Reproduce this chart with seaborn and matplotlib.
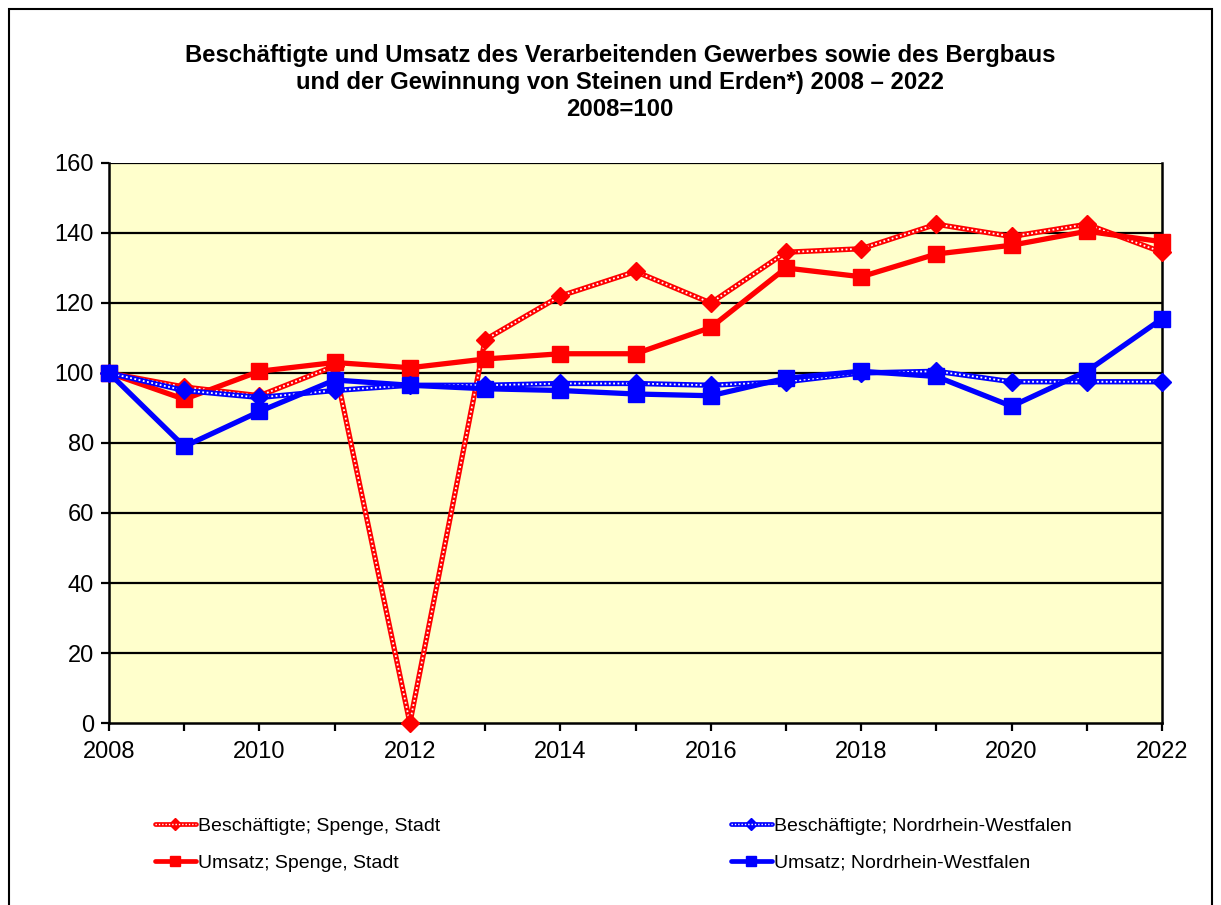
"""
Beschäftigte und Umsatz - Spenge vs. Nordrhein-Westfalen, 2008=100.
"""
import matplotlib
matplotlib.use("Agg")
import matplotlib.pyplot as plt
from matplotlib.legend_handler import HandlerTuple
from matplotlib.lines import Line2D
from matplotlib.patches import Rectangle
import seaborn as sns
import pandas as pd

sns.set_theme(style="white")
plt.rcParams["font.family"] = ["Liberation Sans", "DejaVu Sans"]
plt.rcParams["text.color"] = "black"

years = list(range(2008, 2023))
besch_spenge = [100, 96, 93.5, 102, 0, 109.5, 122, 129, 120, 134.5, 135.5,
                142.5, 139, 142.5, 134.5]
umsatz_spenge = [100, 92.5, 100.5, 103, 101.5, 104, 105.5, 105.5, 113, 130,
                 127.5, 134, 136.5, 140.5, 137.5]
besch_nrw = [100, 95, 93, 95, 96.5, 96.5, 97, 97, 96.5, 97.5, 100, 100.5,
             97.5, 97.5, 97.5]
umsatz_nrw = [100, 79, 89, 98, 96.5, 95.5, 95, 94, 93.5, 98.5, 100.5, 99,
              90.5, 100.5, 115.5]

labels = ["Beschäftigte; Spenge, Stadt", "Umsatz; Spenge, Stadt",
          "Beschäftigte; Nordrhein-Westfalen", "Umsatz; Nordrhein-Westfalen"]

RED = "#FF0000"
BLUE = "#0000FF"
BG = "#FFFFCC"
DOTS = (0, (1, 1.4))

df = pd.DataFrame({
    "Jahr": years * 4,
    "Wert": besch_spenge + umsatz_spenge + besch_nrw + umsatz_nrw,
    "Reihe": sum([[lab] * len(years) for lab in labels], []),
})

fig = plt.figure(figsize=(12.21, 9.05), dpi=100)
ax = fig.add_axes([0.0893, 0.2011, 0.8624, 0.6188])
ax.set_facecolor(BG)

styles = {
    labels[0]: dict(color=RED, dotted=True, marker="D", ms=9.5, lw=3.8),
    labels[1]: dict(color=RED, dotted=False, marker="s", ms=11.5, lw=3.8),
    labels[2]: dict(color=BLUE, dotted=True, marker="D", ms=9.5, lw=3.8),
    labels[3]: dict(color=BLUE, dotted=False, marker="s", ms=11.5, lw=3.8),
}

handles = []
for i, lab in enumerate(labels):
    st = styles[lab]
    sub = df[df["Reihe"] == lab]
    z = 3 + i
    sns.lineplot(data=sub, x="Jahr", y="Wert", color=st["color"],
                 linewidth=st["lw"], ax=ax, zorder=z, legend=False)
    if st["dotted"]:
        ax.plot(sub["Jahr"], sub["Wert"], color="white", linewidth=1.3,
                linestyle=DOTS, zorder=z + 0.1)
    ax.plot(sub["Jahr"], sub["Wert"], linestyle="none", marker=st["marker"],
            markersize=st["ms"], color=st["color"], zorder=z + 0.2,
            clip_on=False)
    base = Line2D([], [], color=st["color"], linewidth=st["lw"] - 0.4,
                  marker=st["marker"], markersize=st["ms"] * 0.6)
    if st["dotted"]:
        dots = Line2D([], [], color="white", linewidth=1.0, linestyle=DOTS)
        handles.append((base, dots))
    else:
        handles.append(base)

ax.set_xlim(2008, 2022)
ax.set_ylim(0, 160)
ax.set_xticks(years, minor=True)
ax.set_xticks(range(2008, 2023, 2))
ax.set_yticks(range(0, 161, 20))
ax.set_xlabel("")
ax.set_ylabel("")
ax.grid(False)
for y in range(20, 161, 20):
    ax.axhline(y, color="black", linewidth=1.6, zorder=1)

for side in ["left", "right", "bottom"]:
    ax.spines[side].set_visible(True)
    ax.spines[side].set_color("black")
    ax.spines[side].set_linewidth(1.8)
ax.spines["top"].set_visible(False)

ax.tick_params(axis="both", which="both", direction="out", color="black",
               width=1.6, length=6, labelsize=17, labelcolor="black")
ax.tick_params(axis="x", which="major", pad=7)
ax.tick_params(axis="y", left=True, pad=5)
ax.tick_params(axis="x", which="both", bottom=True)

fig.text(0.508, 0.909,
         "Beschäftigte und Umsatz des Verarbeitenden Gewerbes sowie des Bergbaus\n"
         "und der Gewinnung von Steinen und Erden*) 2008 – 2022\n2008=100",
         ha="center", va="center", fontsize=17.2, fontweight="bold",
         color="black", linespacing=1.22)

leg_kw = dict(frameon=False, fontsize=14, handlelength=2.1,
              handletextpad=0.1, labelspacing=1.0, numpoints=1,
              handler_map={tuple: HandlerTuple(ndivide=1, pad=0)},
              loc="upper left", borderaxespad=0, borderpad=0,
              labelcolor="black")
leg1 = fig.legend(handles[:2], labels[:2],
                  bbox_to_anchor=(155 / 1221, 1 - 817 / 905), **leg_kw)
leg2 = fig.legend(handles[2:], labels[2:],
                  bbox_to_anchor=(731 / 1221, 1 - 817 / 905), **leg_kw)

fig.patches.append(Rectangle((9 / 1221, -0.05), 1203 / 1221, 1 - 9 / 905 + 0.05,
                             transform=fig.transFigure, fill=False,
                             edgecolor="black", linewidth=1.5))

fig.savefig("out.png", dpi=100, facecolor="white")
plt.close(fig)
